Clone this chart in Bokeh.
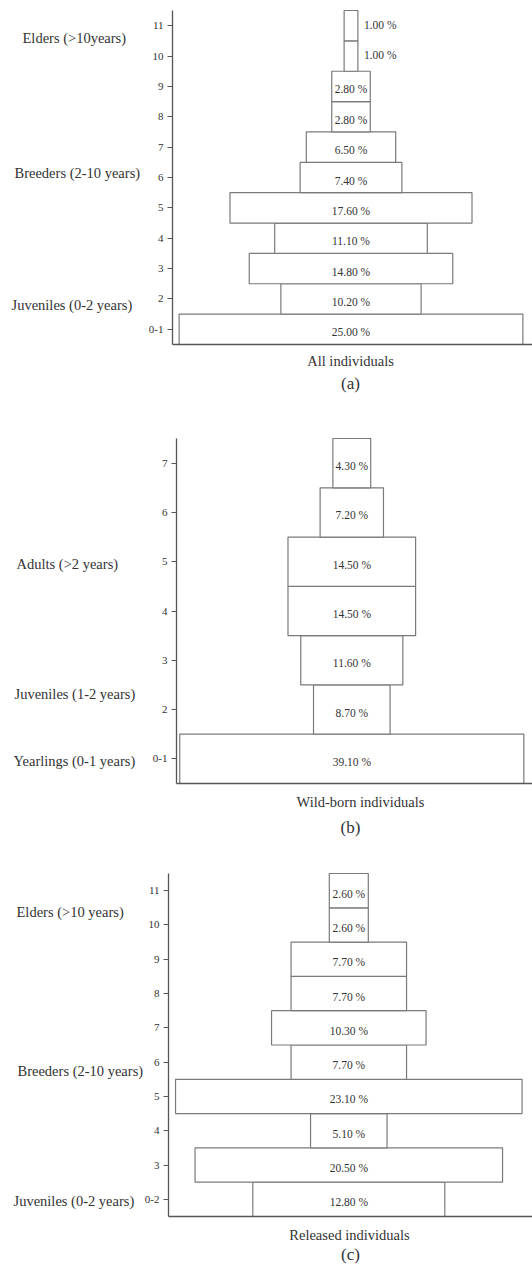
from bokeh.plotting import figure
from bokeh.layouts import column
from bokeh.models import ColumnDataSource, Label, FixedTicker
from bokeh.core.properties import value
from bokeh.embed import file_html
from bokeh.resources import INLINE

# ---------------- data ----------------
# Panel (a) All individuals
a_ages = ["0-1", "2", "3", "4", "5", "6", "7", "8", "9", "10", "11"]
a_pct = [25.0, 10.2, 14.8, 11.1, 17.6, 7.4, 6.5, 2.8, 2.8, 1.0, 1.0]
a_groups = ["Elders (>10years)", "Breeders (2-10 years)", "Juveniles (0-2 years)"]
a_caption = "All individuals"
a_letter = "(a)"

# Panel (b) Wild-born individuals
b_ages = ["0-1", "2", "3", "4", "5", "6", "7"]
b_pct = [39.1, 8.7, 11.6, 14.5, 14.5, 7.2, 4.3]
b_groups = ["Adults (>2 years)", "Juveniles (1-2 years)", "Yearlings (0-1 years)"]
b_caption = "Wild-born individuals"
b_letter = "(b)"

# Panel (c) Released individuals
c_ages = ["0-2", "3", "4", "5", "6", "7", "8", "9", "10", "11"]
c_pct = [12.8, 20.5, 5.1, 23.1, 7.7, 10.3, 7.7, 7.7, 2.6, 2.6]
c_groups = ["Elders (>10 years)", "Breeders (2-10 years)", "Juveniles (0-2 years)"]
c_caption = "Released individuals"
c_letter = "(c)"

FONT = "Liberation Serif"
TXT = "#333333"
W = 532


def make_panel(ages, pct, groups, caption, letter, L):
    # L: layout in page pixels (page has no margin)
    n = len(ages)
    fig_top, fig_bot = L["fig"]
    f_top, f_bot = L["frame_y"]
    ax_x = L["axis_x"]
    cx, ppp = L["center"], L["ppp"]
    ppu = (f_bot - f_top) / n

    def dx(px):
        return (px - cx) / ppp

    y_lo, y_hi = -0.5, n - 0.5
    y1 = y_hi + (f_top - fig_top) / ppu
    y0 = y_lo - (fig_bot - f_bot) / ppu

    def dy(py):
        return y_hi - (py - f_top) / ppu

    p = figure(frame_width=W, frame_height=fig_bot - fig_top,
               min_border_left=0, min_border_right=0,
               min_border_top=0, min_border_bottom=0,
               x_range=(dx(0), dx(W)), y_range=(y0, y1),
               toolbar_location=None, output_backend="svg")
    p.outline_line_color = None
    p.xgrid.visible = False
    p.ygrid.visible = False
    p.background_fill_color = "white"
    p.border_fill_color = "white"

    pos = list(range(n))
    src = ColumnDataSource(dict(
        left=[-v / 2 for v in pct],
        right=[v / 2 for v in pct],
        bottom=[i - 0.5 for i in pos],
        top=[i + 0.5 for i in pos],
    ))
    p.quad(left="left", right="right", bottom="bottom", top="top", source=src,
           fill_color="white", line_color="#7a7a7a", line_width=1.2)

    labels = ["%.2f %%" % v for v in pct]
    inside = [i for i, v in enumerate(pct) if v * ppp >= 30]
    outside = [i for i, v in enumerate(pct) if v * ppp < 30]
    if inside:
        p.text(x=[0] * len(inside), y=[pos[i] for i in inside],
               text=[labels[i] for i in inside],
               text_font=value(FONT), text_font_size="11.5px",
               text_color=TXT, text_align="center", text_baseline="middle",
               y_offset=3)
    if outside:
        p.text(x=[pct[i] / 2 for i in outside], y=[pos[i] for i in outside],
               text=[labels[i] for i in outside],
               text_font=value(FONT), text_font_size="11.5px",
               text_color=TXT, text_align="left", text_baseline="middle",
               x_offset=6, y_offset=-1)

    yax = p.yaxis[0]
    yax.fixed_location = dx(ax_x)
    yax.bounds = (y_lo, y_hi)
    yax.ticker = FixedTicker(ticks=pos)
    yax.major_label_overrides = {i: a for i, a in enumerate(ages)}
    yax.minor_tick_line_color = None
    yax.major_tick_in = 0
    yax.major_tick_out = 5
    yax.major_label_standoff = 4
    yax.axis_line_color = "#555555"
    yax.axis_line_width = 1.3
    yax.major_tick_line_color = "#555555"
    yax.major_label_text_font = FONT
    yax.major_label_text_font_size = "11px"
    yax.major_label_text_color = TXT

    xax = p.xaxis[0]
    xax.fixed_location = y_lo
    xax.bounds = (dx(ax_x), dx(W))
    xax.ticker = FixedTicker(ticks=[])
    xax.minor_tick_line_color = None
    xax.major_tick_line_color = None
    xax.major_label_text_font_size = "0px"
    xax.axis_line_color = "#555555"
    xax.axis_line_width = 1.3

    for g, (gx, gy) in zip(groups, L["groups"]):
        p.add_layout(Label(x=dx(gx), y=dy(gy), text=g, text_font=FONT,
                           text_font_size="14.5px", text_color=TXT,
                           text_align="left", text_baseline="middle"))
    (capx, capy), (letx, lety) = L["caption"], L["letter"]
    p.add_layout(Label(x=dx(capx), y=dy(capy), text=caption, text_font=FONT,
                       text_font_size="14.5px", text_color=TXT,
                       text_align="center", text_baseline="middle"))
    p.add_layout(Label(x=dx(letx), y=dy(lety), text=letter, text_font=FONT,
                       text_font_size="17px", text_color=TXT,
                       text_align="center", text_baseline="middle"))
    return p


LA = dict(fig=(0, 400), frame_y=(10, 344), axis_x=172, center=350.5, ppp=13.75,
          groups=[(22, 37), (14, 172), (11, 304)],
          caption=(350, 360.7), letter=(350, 382.7))
LB = dict(fig=(400, 840), frame_y=(438, 783), axis_x=176, center=351.3, ppp=8.8,
          groups=[(16, 563.3), (14, 693.3), (13, 760)],
          caption=(360, 801.7), letter=(350, 826.7))
LC = dict(fig=(840, 1267), frame_y=(873, 1216), axis_x=168, center=348.3, ppp=15.0,
          groups=[(16, 911.7), (17, 1070), (13, 1200)],
          caption=(349, 1234.3), letter=(350, 1254))

pa = make_panel(a_ages, a_pct, a_groups, a_caption, a_letter, LA)
pb = make_panel(b_ages, b_pct, b_groups, b_caption, b_letter, LB)
pc = make_panel(c_ages, c_pct, c_groups, c_caption, c_letter, LC)

layout = column(pa, pb, pc, spacing=0)
open("out.html", "w").write(file_html(layout, INLINE))
